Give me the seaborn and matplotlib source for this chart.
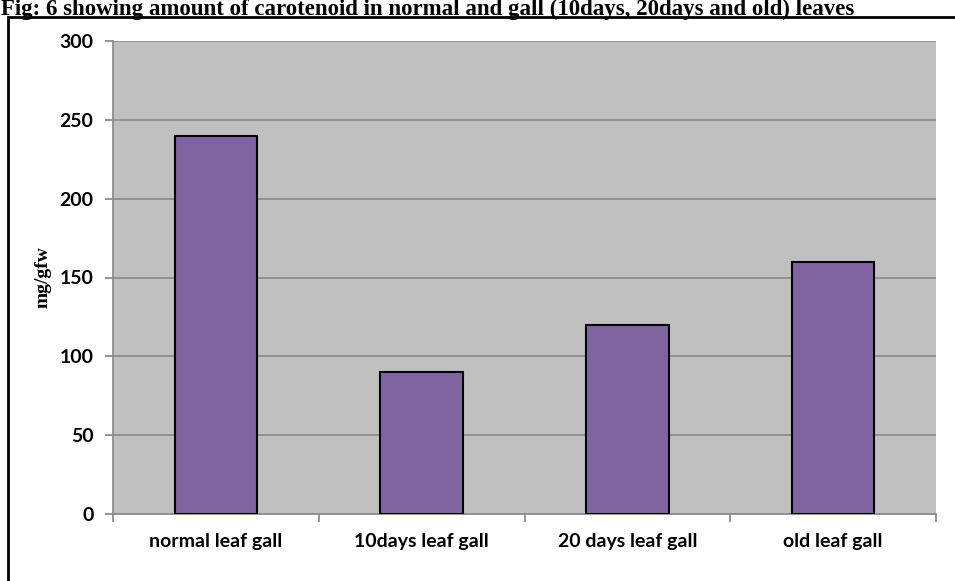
import matplotlib
matplotlib.use("Agg")
import matplotlib.pyplot as plt
import seaborn as sns
import pandas as pd
from matplotlib.patches import Rectangle

categories = ["normal leaf gall", "10days leaf gall", "20 days leaf gall", "old leaf gall"]
values = [240, 90, 120, 160]
yticks = [0, 50, 100, 150, 200, 250, 300]
title = "Fig: 6 showing amount of carotenoid in normal and gall (10days, 20days and old) leaves"
ylabel = "mg/gfw"

df = pd.DataFrame({"cat": categories, "val": values})

W, H = 955, 581
fig = plt.figure(figsize=(W / 100, H / 100), dpi=100)
fig.patch.set_facecolor("white")

# outer frame
fig.patches.append(Rectangle((8 / W, -0.05), 1.1, 1 - 17 / H + 0.05, transform=fig.transFigure,
                             fill=False, edgecolor="black", linewidth=2.0, zorder=0))
fig.text(1 / W, 1 - 15 / H, title, family="Liberation Serif", fontweight="bold",
         fontsize=16.5, ha="left", va="baseline")

ax = fig.add_axes([113 / W, 1 - 514 / H, 823 / W, 473 / H])
ax.set_facecolor("#C0C0C0")
sns.barplot(data=df, x="cat", y="val", order=categories, color="#8064A2",
            edgecolor="black", linewidth=1.5, width=0.4, saturation=1, ax=ax, zorder=3)
ax.set_xlim(-0.5, 3.5)
ax.set_ylim(0, 300)
ax.set_yticks(yticks)
ax.yaxis.grid(True, color="#8C8C8C", linewidth=1.3, zorder=0)
ax.set_axisbelow(True)
for s in ["top", "right"]:
    ax.spines[s].set_visible(False)
for s in ["left", "bottom"]:
    ax.spines[s].set_color("#8C8C8C")
    ax.spines[s].set_linewidth(1.3)

ax.set_xticks([-0.5, 0.5, 1.5, 2.5, 3.5])
ax.set_xticklabels([])
ax.set_xticks(range(len(categories)), minor=True)
ax.set_xticklabels(categories, minor=True, family="Lato", fontweight="bold", fontsize=14)
ax.tick_params(axis="x", which="major", length=6, color="#8C8C8C", width=1.3)
ax.tick_params(axis="x", which="minor", length=0, pad=14)
ax.tick_params(axis="y", length=6, color="#8C8C8C", width=1.3, pad=8)
for lab in ax.get_yticklabels():
    lab.set_family("Lato")
    lab.set_fontweight("bold")
    lab.set_fontsize(14)
ax.set_xlabel("")
ax.set_ylabel(ylabel, family="Liberation Serif", fontweight="bold", fontsize=14, labelpad=6)

fig.savefig("out.png", dpi=100)
